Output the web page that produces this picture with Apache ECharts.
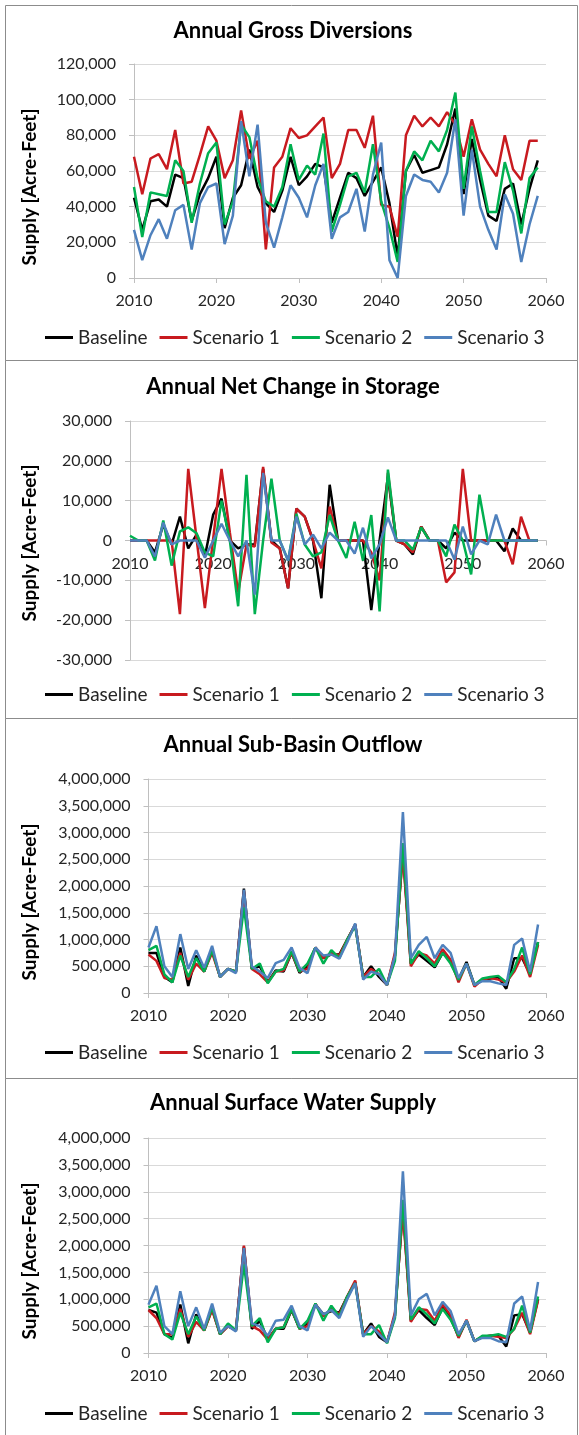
<!DOCTYPE html>
<html><head><meta charset="utf-8">
<script src="https://cdn.jsdelivr.net/npm/echarts@6/dist/echarts.min.js"></script>
<style>html,body{margin:0;padding:0;background:#fff}#c{width:579px;height:1435px}</style>
</head><body><div id="c"></div><script>
const years = [2010,2011,2012,2013,2014,2015,2016,2017,2018,2019,2020,2021,2022,2023,2024,2025,2026,2027,2028,2029,2030,2031,2032,2033,2034,2035,2036,2037,2038,2039,2040,2041,2042,2043,2044,2045,2046,2047,2048,2049,2050,2051,2052,2053,2054,2055,2056,2057,2058,2059];
const seriesNames = ['Baseline','Scenario 1','Scenario 2','Scenario 3'];
const panelTitles = ['Annual Gross Diversions','Annual Net Change in Storage','Annual Sub-Basin Outflow','Annual Surface Water Supply'];
const yAxisTitle = 'Supply [Acre-Feet]';

// Annual Gross Diversions (acre-feet)
const divBaseline = [45000,27000,43000,44000,40000,58000,56000,32000,47000,56000,68000,28000,45000,52000,72000,51000,42000,37000,49000,68000,52000,57000,64000,62000,31000,45000,59000,56000,46000,54000,62000,42000,12000,60000,69000,59000,60500,62000,75000,95000,47000,78000,55000,35000,32000,50000,53000,30000,50000,66000];
const divScen1 = [68000,47000,67000,69500,61000,83000,53000,54000,69000,85000,77000,56000,66000,94000,67000,77000,16000,62000,68000,84000,78500,80000,85000,90000,56000,64000,83000,83000,73000,91000,41000,40000,23000,80000,91000,85000,90000,85000,93000,86000,68000,89000,72000,64000,57000,80000,61000,55000,77000,77000];
const divScen2 = [51000,23000,48000,47000,46000,66000,60000,31000,53000,70000,76000,30000,43000,86000,79000,56000,43000,40000,51000,75000,55000,63000,58000,81000,26000,41000,57000,59000,48000,75000,43000,28000,9000,60000,71000,66000,77000,71000,83000,104000,50000,85000,60000,37000,37000,65000,49000,25000,56000,62000];
const divScen3 = [27000,10000,24000,33000,22000,38000,41000,16000,42000,51000,53000,19000,35000,88000,57000,86000,31000,17000,34000,52000,45000,34000,52000,64000,22000,34000,37000,50000,26000,58000,76000,10000,0,46000,58000,55000,54000,48000,59000,89000,35000,72000,40000,27000,16000,47000,36000,9000,30000,46000];

// Annual Net Change in Storage (acre-feet)
const stoBaseline = [0,0,0,-3000,4000,-1000,6000,-2000,1500,-4000,6500,10500,0,-2000,-1000,-1000,18000,0,-2000,-12000,8000,6000,0,-14500,14000,0,0,0,0,-17500,0,16000,0,-1000,-3500,3500,0,0,-2000,2000,0,0,0,0,0,-2700,3000,0,0,0];
const stoScen1 = [0,0,0,0,0,0,-18500,18000,500,-17000,500,18000,2000,-13000,-1000,-1500,18500,-500,-2000,-12000,8000,6000,0,-7000,8500,0,0,0,0,-3000,-10000,17000,0,-1000,-3000,3500,0,0,-10500,-8000,18000,0,0,0,0,0,-6000,6000,0,0];
const stoScen2 = [1200,0,0,-5000,5000,-6300,2300,3300,1800,-3000,-4000,10000,0,-16500,16500,-18500,0,15500,0,-5000,6700,-1000,-4000,-3000,6400,0,-4400,4700,-5000,6400,-17800,17800,0,0,-2300,3300,0,0,-4000,4000,0,-8500,11500,0,0,0,0,0,0,0];
const stoScen3 = [0,0,0,-4000,4500,-1000,0,0,0,-4300,0,4200,0,-4000,0,-13600,17000,0,0,-5000,6000,-1000,1500,-2000,2000,0,0,-3300,3200,-4500,-1000,5800,0,0,0,0,0,0,0,-4800,3500,-3500,0,-1000,6500,0,0,0,0,0];

// Annual Sub-Basin Outflow (acre-feet)
const outBaseline = [750000,750000,300000,200000,850000,130000,700000,400000,800000,300000,450000,400000,1950000,450000,500000,200000,420000,400000,750000,380000,500000,850000,650000,720000,720000,1000000,1280000,300000,500000,300000,150000,700000,2650000,550000,720000,600000,480000,750000,600000,250000,580000,150000,250000,270000,300000,80000,650000,650000,350000,950000];
const outScen1 = [720000,600000,280000,250000,750000,250000,550000,400000,750000,300000,450000,400000,1900000,450000,350000,200000,400000,420000,750000,400000,450000,850000,650000,750000,700000,1000000,1280000,300000,450000,350000,150000,750000,2600000,500000,750000,700000,550000,820000,620000,200000,550000,120000,250000,280000,250000,200000,400000,700000,300000,900000];
const outScen2 = [800000,880000,350000,200000,700000,300000,650000,400000,800000,300000,450000,400000,1600000,450000,550000,180000,400000,450000,780000,400000,550000,850000,550000,800000,650000,1000000,1250000,300000,300000,450000,150000,600000,2800000,550000,780000,650000,500000,750000,550000,250000,550000,150000,270000,300000,320000,200000,450000,850000,350000,950000];
const outScen3 = [850000,1250000,500000,300000,1100000,450000,800000,470000,880000,300000,450000,370000,1930000,500000,400000,280000,560000,620000,850000,470000,370000,850000,700000,720000,640000,950000,1300000,250000,400000,350000,150000,700000,3380000,650000,900000,1050000,650000,900000,750000,280000,550000,150000,220000,220000,180000,150000,900000,1020000,400000,1280000];

// Annual Surface Water Supply (acre-feet)
const swsBaseline = [800000,750000,350000,280000,900000,180000,720000,420000,820000,350000,500000,420000,1980000,450000,600000,250000,450000,450000,800000,450000,550000,900000,720000,780000,750000,1050000,1320000,350000,550000,300000,200000,700000,2700000,600000,800000,650000,520000,850000,650000,300000,600000,220000,300000,320000,320000,120000,700000,720000,380000,1000000];
const swsScen1 = [800000,650000,350000,350000,820000,300000,580000,420000,800000,350000,500000,420000,2000000,500000,420000,250000,450000,480000,820000,450000,500000,920000,680000,820000,720000,1050000,1350000,350000,500000,400000,200000,750000,2650000,580000,820000,800000,600000,900000,700000,280000,620000,220000,300000,320000,300000,280000,450000,750000,350000,980000];
const swsScen2 = [850000,920000,350000,250000,750000,350000,680000,420000,850000,350000,550000,420000,1650000,500000,650000,200000,450000,480000,820000,450000,600000,920000,600000,880000,680000,1050000,1300000,350000,350000,520000,180000,650000,2850000,620000,850000,720000,550000,820000,620000,320000,600000,220000,320000,320000,350000,300000,450000,880000,380000,1050000];
const swsScen3 = [900000,1250000,500000,350000,1150000,500000,850000,450000,920000,380000,500000,400000,1950000,550000,500000,320000,600000,620000,880000,500000,420000,900000,720000,800000,650000,1000000,1300000,300000,500000,350000,200000,700000,3380000,700000,1000000,1100000,700000,950000,780000,350000,600000,220000,280000,280000,220000,200000,920000,1050000,420000,1320000];

const colors = ['#000000','#c81a1f','#00b050','#4f81bd'];
const FONT = 'Lato';
const panels = [
  {data:[divBaseline,divScen1,divScen2,divScen3], min:0, max:120000, interval:20000, xOffset:0,
   grid:{left:134,right:33,top:64,height:214}, titleY:32, legendY:338, yTitleY:187, box:[5,5,572,355]},
  {data:[stoBaseline,stoScen1,stoScen2,stoScen3], min:-30000, max:30000, interval:10000, xOffset:-119.5,
   grid:{left:130,right:33,top:421,height:239}, titleY:388, legendY:695, yTitleY:543, box:[5,360,572,358]},
  {data:[outBaseline,outScen1,outScen2,outScen3], min:0, max:4000000, interval:500000, xOffset:0,
   grid:{left:148.5,right:33,top:779,height:214}, titleY:746, legendY:1053, yTitleY:902, box:[5,718,572,360]},
  {data:[swsBaseline,swsScen1,swsScen2,swsScen3], min:0, max:4000000, interval:500000, xOffset:0,
   grid:{left:148.5,right:33,top:1138,height:215}, titleY:1104, legendY:1414, yTitleY:1261, box:[5,1078,572,360]}
];
const fmt = v => v.toLocaleString('en-US');
const option = {backgroundColor:'#fff', animation:false, color:colors,
  title:[], grid:[], xAxis:[], yAxis:[], legend:[], series:[], graphic:[]};
panels.forEach((p,i)=>{
  option.graphic.push({type:'rect', shape:{x:p.box[0]+0.5,y:p.box[1]+0.5,width:p.box[2],height:p.box[3]}, style:{fill:'none',stroke:'#8c8c8c',lineWidth:1}, silent:true, z:-1});
  option.graphic.push({type:'text', x:30, y:p.yTitleY, rotation:Math.PI/2, style:{text:yAxisTitle, font:'bold 19px '+FONT, fill:'#000', align:'center', verticalAlign:'middle'}});
  option.title.push({text:panelTitles[i], left:293, textAlign:'center', top:p.titleY-12, padding:0,
    textStyle:{fontFamily:FONT, fontWeight:'bold', fontSize:22, color:'#000'}});
  option.grid.push(Object.assign({}, p.grid));
  option.xAxis.push({type:'value', gridIndex:i, min:2010, max:2060, interval:10, offset:p.xOffset,
    axisLine:{onZero:false, lineStyle:{color:'#bfbfbf',width:1}},
    axisTick:{show:true, inside:false, length:5, lineStyle:{color:'#bfbfbf'}},
    axisLabel:{fontFamily:FONT, fontSize:16, color:'#262626', margin:15, formatter:v=>String(v)},
    splitLine:{show:false}});
  option.yAxis.push({type:'value', gridIndex:i, min:p.min, max:p.max, interval:p.interval,
    axisLine:{show:true, lineStyle:{color:'#bfbfbf',width:1}},
    axisTick:{show:true, length:5, lineStyle:{color:'#bfbfbf'}},
    axisLabel:{fontFamily:FONT, fontSize:16, color:'#262626', margin:18, formatter:fmt},
    splitLine:{show:true, lineStyle:{color:'#d9d9d9',width:1}}});
  option.legend.push({data:seriesNames, left:45, top:p.legendY-10, padding:0, icon:'rect', itemWidth:28, itemHeight:3, itemGap:12,
    textStyle:{fontFamily:FONT, fontSize:19, color:'#262626'}});
  p.data.forEach((arr,k)=>{
    option.series.push({type:'line', name:seriesNames[k], xAxisIndex:i, yAxisIndex:i,
      data:years.map((y,j)=>[y,arr[j]]), showSymbol:false, symbol:'none',
      lineStyle:{width:2.5,color:colors[k]}, itemStyle:{color:colors[k]}, z:2+k});
  });
});
const chart = echarts.init(document.getElementById('c'), null, {renderer:'canvas'});
chart.setOption(option);
</script></body></html>
